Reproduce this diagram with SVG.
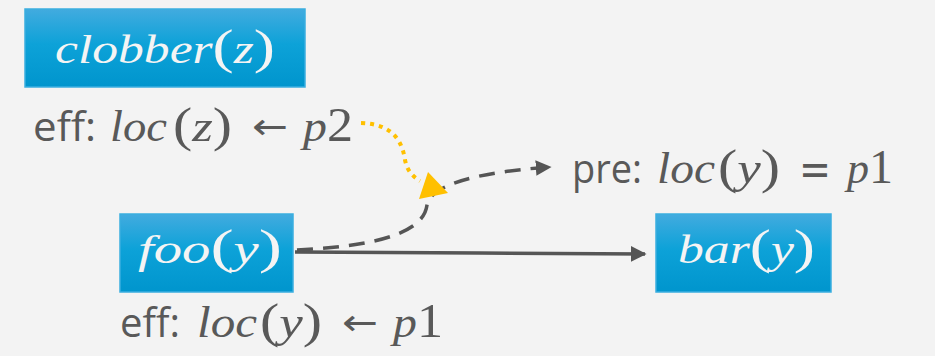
<svg xmlns="http://www.w3.org/2000/svg" width="935" height="356" viewBox="0 0 935 356">
<defs>
<linearGradient id="g" x1="0" y1="0" x2="0" y2="1">
<stop offset="0" stop-color="#42abdf"/>
<stop offset="0.45" stop-color="#0da2d8"/>
<stop offset="1" stop-color="#0095cd"/>
</linearGradient>
<marker id="ah" viewBox="0 0 10 10" refX="9" refY="5" markerWidth="4.5" markerHeight="4.5" orient="auto" markerUnits="strokeWidth">
<path d="M0,0 L10,5 L0,10 z" fill="#555"/>
</marker>
</defs>
<style>
.box{fill:url(#g);stroke:#3aaee0;stroke-width:1.5}
.bt{font-family:"Liberation Serif",serif;font-style:italic;font-size:39px;fill:#f4f4f4}
.m{font-family:"Liberation Serif",serif;font-style:italic;font-size:44px;fill:#595959}
.p{font-style:normal;font-size:48px}
.ar{font-family:"DejaVu Sans",sans-serif;font-size:36px;fill:#595959}
.eq{font-family:"DejaVu Sans",sans-serif;font-size:46px;fill:#595959}
.s{font-family:"Open Sans","Noto Sans",sans-serif;font-size:41px;fill:#595959}
.dash{fill:none;stroke:#555;stroke-width:3.5;stroke-dasharray:16,10}
.solid{fill:none;stroke:#555;stroke-width:3.5}
.dot{fill:none;stroke:#ffc000;stroke-width:4;stroke-dasharray:4,5}
</style>
<rect width="935" height="356" fill="#f3f3f3"/>
<g id="connectors">
<path class="solid" d="M295,252 L480,253 L645,254" marker-end="url(#ah)"/>
<path class="dash" d="M297,250 C385,246 424,230 427,205 C431,184 480,172 550,167" marker-end="url(#ah)"/>
<path class="dot" d="M361,123 C392,124 402,140 405,160 C407,170 412,176 420,181"/>
<polygon points="428,172 419,199 448,193" fill="#ffc000"/>
</g>
<g id="clobber">
<rect class="box" x="25" y="9" width="280" height="78"/>
<text class="bt" x="55" y="63" textLength="220" lengthAdjust="spacingAndGlyphs">clobber<tspan class="p">(</tspan>z<tspan class="p">)</tspan></text>
</g>
<g id="foo">
<rect class="box" x="120" y="214" width="173" height="78"/>
<text class="bt" x="138" y="263" textLength="144" lengthAdjust="spacingAndGlyphs">foo<tspan class="p">(</tspan>y<tspan class="p">)</tspan></text>
</g>
<g id="bar">
<rect class="box" x="656" y="214" width="175" height="78"/>
<text class="bt" x="678" y="263" textLength="137" lengthAdjust="spacingAndGlyphs">bar<tspan class="p">(</tspan>y<tspan class="p">)</tspan></text>
</g>
<g id="eff-clobber">
<text class="s" x="33" y="141" textLength="63" lengthAdjust="spacingAndGlyphs">eff:</text>
<text class="m" x="110" y="141" textLength="57" lengthAdjust="spacingAndGlyphs">loc</text>
<text class="m" x="173" y="141" textLength="59" lengthAdjust="spacingAndGlyphs"><tspan class="p">(</tspan>z<tspan class="p">)</tspan></text>
<text class="ar" x="252" y="139" textLength="36" lengthAdjust="spacingAndGlyphs">←</text>
<text class="m" x="303" y="141" textLength="50" lengthAdjust="spacingAndGlyphs">p<tspan class="p">2</tspan></text>
</g>
<g id="pre-bar">
<text class="s" x="572" y="183" textLength="70" lengthAdjust="spacingAndGlyphs">pre:</text>
<text class="m" x="657" y="183" textLength="58" lengthAdjust="spacingAndGlyphs">loc</text>
<text class="m" x="718" y="183" textLength="62" lengthAdjust="spacingAndGlyphs"><tspan class="p">(</tspan>y<tspan class="p">)</tspan></text>
<text class="eq" x="799" y="185" textLength="32" lengthAdjust="spacingAndGlyphs">=</text>
<text class="m" x="847" y="183" textLength="46" lengthAdjust="spacingAndGlyphs">p<tspan class="p">1</tspan></text>
</g>
<g id="eff-foo">
<text class="s" x="120" y="337" textLength="60" lengthAdjust="spacingAndGlyphs">eff:</text>
<text class="m" x="197" y="337" textLength="60" lengthAdjust="spacingAndGlyphs">loc</text>
<text class="m" x="260" y="337" textLength="62" lengthAdjust="spacingAndGlyphs"><tspan class="p">(</tspan>y<tspan class="p">)</tspan></text>
<text class="ar" x="342" y="335" textLength="36" lengthAdjust="spacingAndGlyphs">←</text>
<text class="m" x="393" y="337" textLength="50" lengthAdjust="spacingAndGlyphs">p<tspan class="p">1</tspan></text>
</g>
</svg>
